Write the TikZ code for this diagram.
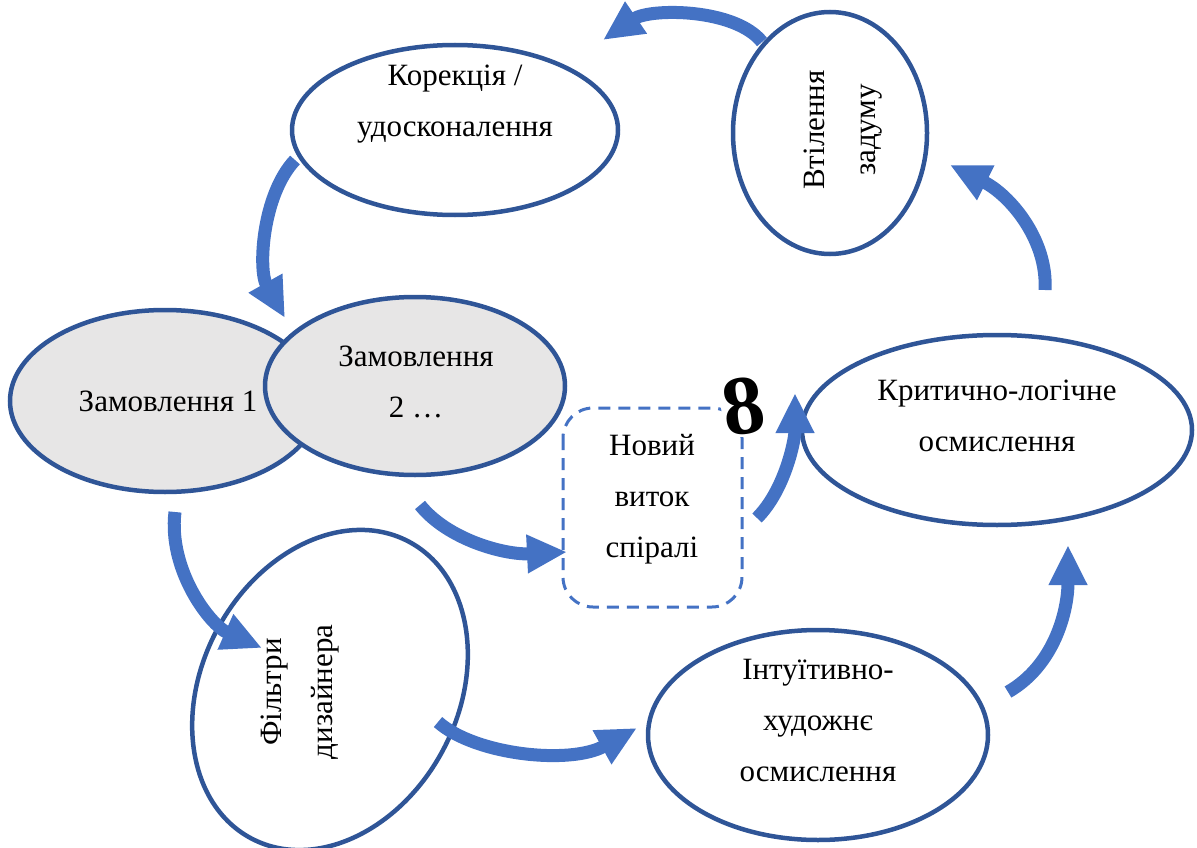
\documentclass[tikz,border=0pt]{standalone}
\usepackage{fontspec}
\setmainfont{Liberation Serif}
\usetikzlibrary{arrows.meta}
\definecolor{edge}{HTML}{2F5597}
\definecolor{arr}{HTML}{4472C4}
\definecolor{grayfill}{HTML}{E7E6E6}
\tikzset{
  oval/.style={draw=edge, line width=4.5pt, fill=white},
  grayoval/.style={draw=edge, line width=4.5pt, fill=grayfill},
  flow/.style={draw=arr, line width=13pt, -{Triangle[length=40pt,width=36pt]}},
  lbl/.style={font=\fontsize{31}{51}\selectfont, align=center, text=black},
}
\begin{document}
\begin{tikzpicture}[x=1pt,y=-1pt]
\useasboundingbox (0,0) rectangle (1197,848);
% ellipses
\draw[oval] (455,130) ellipse [x radius=163, y radius=85];
\draw[oval] (830,133) ellipse [x radius=97, y radius=121];
\draw[grayoval] (165,401) ellipse [x radius=155, y radius=91];
\draw[grayoval] (415,386) ellipse [x radius=150, y radius=89];
\draw[oval] (997,430) ellipse [x radius=195, y radius=95];
\draw[oval, rotate around={-28:(330,690)}] (330,690) ellipse [x radius=128, y radius=168];
\draw[oval] (818,735) ellipse [x radius=170, y radius=105];
% dashed box
\draw[draw=arr, line width=3pt, dash pattern=on 12pt off 8pt, rounded corners=30pt] (563,408) rectangle (742,607);
% eight
\node[fill=white, rotate=8, inner sep=1pt, font=\fontsize{84}{84}\selectfont\bfseries] (eight) at (743,406) {8};
% labels
\node[lbl] (kor) at (455,104) {Корекція /\\удосконалення};
\node[lbl, rotate=90] (vt) at (843,130) {Втілення\\задуму};
\node[lbl] (z1) at (168,401) {Замовлення 1};
\node[lbl] (z2) at (416,382) {Замовлення\\2 …};
\node[lbl] (nv) at (652,499) {Новий\\виток\\спіралі};
\node[lbl] (kr) at (997,416) {Критично-логічне\\осмислення};
\node[lbl, rotate=90] (fil) at (300,692) {Фільтри\\дизайнера};
\node[lbl] (int) at (818,720) {Інтуїтивно-\\художнє\\осмислення};
% arrows
\draw[flow] (762,42) .. controls (735,8) and (650,8) .. (603,40);
\draw[flow] (1045,290) .. controls (1048,240) and (1010,195) .. (950,165);
\draw[flow] (295,160) .. controls (262,195) and (258,270) .. (285,318);
\draw[flow] (175,512) .. controls (168,570) and (210,625) .. (262,648);
\draw[flow] (420,505) .. controls (448,540) and (505,555) .. (567,552);
\draw[flow] (757,518) .. controls (785,490) and (795,440) .. (795,393);
\draw[flow] (438,722) .. controls (475,755) and (570,765) .. (637,728);
\draw[flow] (1008,692) .. controls (1055,665) and (1068,610) .. (1068,545);
\end{tikzpicture}
\end{document}
